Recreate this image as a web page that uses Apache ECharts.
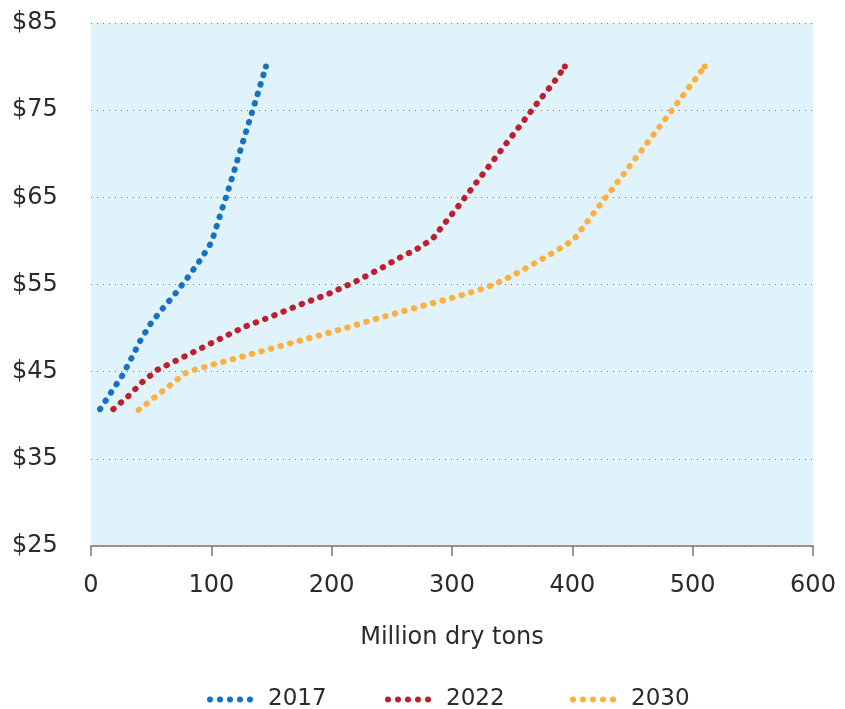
<!DOCTYPE html>
<html><head><meta charset="utf-8">
<script src="https://cdn.jsdelivr.net/npm/echarts@6/dist/echarts.min.js"></script>
<style>html,body{margin:0;padding:0;background:#fff}#c{width:845px;height:709px}</style>
</head><body><div id="c"></div>
<script>
const seriesNames = ['2017', '2022', '2030'];
const x2017 = [7.5, 16.6, 25.8, 33.5, 40.7, 49, 59.3, 69.8, 79.8, 89.2, 98.3, 101, 104, 109, 111.7, 118.9, 128.3, 135.5, 145.4];
const y2017 = [40.7, 42.6, 44.5, 46.5, 48.5, 50.4, 52.2, 53.9, 55.7, 57.5, 59.4, 60.2, 61.5, 63.7, 64.8, 68, 72.3, 75.5, 80];
const x2022 = [18.5, 31, 42.6, 55, 69.8, 84.5, 99, 113.6, 128.6, 151.3, 174, 197, 219.2, 241.6, 255.5, 270, 283.7, 293.7, 303.7, 313.6, 323.6, 333.6, 343.6, 353.6, 363.6, 373.6, 383.6, 393.8];
const y2022 = [40.7, 42.2, 43.8, 45.2, 46.2, 47.2, 48.2, 49.2, 50.2, 51.4, 52.7, 53.9, 55.3, 56.9, 58.0, 59.0, 60.2, 62.0, 63.7, 65.5, 67.3, 69.1, 70.9, 72.7, 74.5, 76.3, 78.0, 80];
const x2030 = [39.6, 52.4, 65.4, 78.1, 85.6, 101, 117.2, 140.7, 164.3, 188.1, 211.7, 235.2, 266.5, 290.4, 313.7, 329.5, 344.4, 365.8, 387.1, 400.9, 420.6, 445.6, 475.2, 510];
const y2030 = [40.6, 42, 43.4, 44.8, 45.2, 45.8, 46.4, 47.3, 48.2, 49.1, 50.0, 51.0, 52.2, 53.1, 54.0, 54.7, 55.6, 57.2, 58.9, 60.1, 63.7, 68.2, 73.6, 80];
const xTicks = [0, 100, 200, 300, 400, 500, 600];
const yTicks = [25, 35, 45, 55, 65, 75, 85];
const xName = 'Million dry tons';
const colors = ['#1672c1', '#be1e2d', '#fbb040'];

const allX = [x2017, x2022, x2030];
const allY = [y2017, y2022, y2030];
// line points; the final point also gets a round dot so the dotted line ends on a dot
const pairs = (xs, ys) => xs.map((x, i) => (i === xs.length - 1)
  ? {value: [x, ys[i]], symbol: 'circle', symbolSize: 6}
  : {value: [x, ys[i]], symbol: 'none'});
const FONT = 'DejaVu Sans';
const TXT = '#2b2b2b';

// five round dots as legend icon
const dotsIcon = 'path://M0,3a3,3 0 1,0 6,0a3,3 0 1,0 -6,0z M10,3a3,3 0 1,0 6,0a3,3 0 1,0 -6,0z M20,3a3,3 0 1,0 6,0a3,3 0 1,0 -6,0z M30,3a3,3 0 1,0 6,0a3,3 0 1,0 -6,0z M40,3a3,3 0 1,0 6,0a3,3 0 1,0 -6,0z';
const legendLefts = [202, 380, 565];

const chart = echarts.init(document.getElementById('c'), null, {renderer: 'canvas'});
chart.setOption({
  animation: false,
  textStyle: {fontFamily: FONT},
  grid: {left: 91, right: 32, top: 23, bottom: 163, show: true, backgroundColor: '#e0f3fa', borderWidth: 0},
  legend: seriesNames.map((n, i) => ({
    left: legendLefts[i], top: 683,
    icon: dotsIcon, itemWidth: 46, itemHeight: 6,
    textStyle: {fontSize: 23, color: TXT, fontFamily: FONT, padding: [0, 0, 0, 10]},
    data: [n]
  })),
  xAxis: {
    type: 'value', min: xTicks[0], max: xTicks[xTicks.length - 1], interval: 100,
    name: xName, nameLocation: 'middle', nameGap: 80,
    nameTextStyle: {fontSize: 24, color: TXT, fontFamily: FONT},
    axisLine: {show: true, lineStyle: {color: '#777', width: 1.5}},
    axisTick: {show: true, length: 10, lineStyle: {color: '#777', width: 1.5}},
    axisLabel: {fontSize: 24, color: TXT, margin: 28, fontFamily: FONT},
    splitLine: {show: false}
  },
  yAxis: {
    type: 'value', min: yTicks[0], max: yTicks[yTicks.length - 1], interval: 10,
    axisLine: {show: false}, axisTick: {show: false},
    axisLabel: {fontSize: 24, color: TXT, align: 'left', margin: 79, fontFamily: FONT,
      formatter: v => '$' + v},
    splitLine: {show: true, lineStyle: {color: '#6f7a80', width: 1, type: [1, 5]}}
  },
  series: seriesNames.map((n, i) => ({
    name: n, type: 'line', data: pairs(allX[i], allY[i]),
    showSymbol: true, symbol: 'none', smooth: false,
    color: colors[i],
    itemStyle: {color: colors[i], borderWidth: 0},
    lineStyle: {color: colors[i], width: 6, type: [0.5, 9.4], cap: 'round', join: 'round'}
  }))
});
</script></body></html>
